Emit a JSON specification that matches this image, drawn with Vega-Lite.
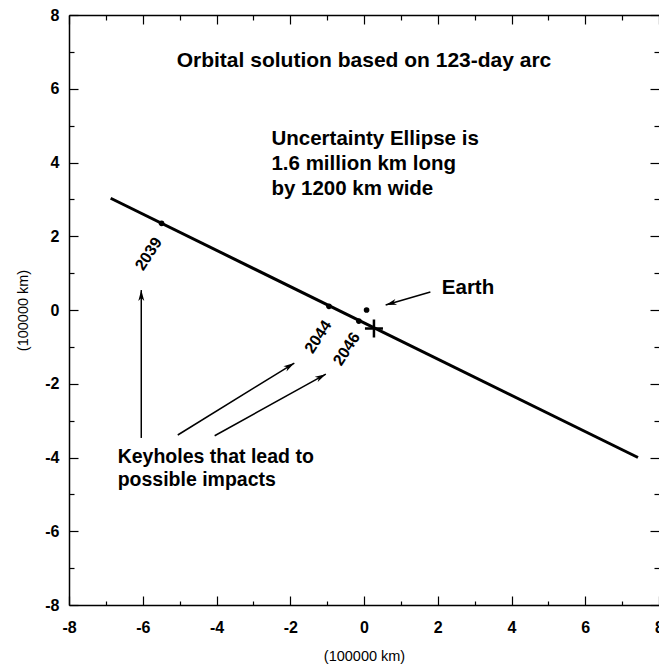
{
  "$schema": "https://vega.github.io/schema/vega-lite/v6.json",
  "width": 590,
  "height": 590,
  "autosize": {"type": "none"},
  "padding": {"left": 69, "top": 15, "right": 0, "bottom": 59},
  "background": "white",
  "config": {
    "view": {"stroke": null},
    "font": "Liberation Sans",
    "axis": {
      "grid": false,
      "domainColor": "black",
      "domainWidth": 1.5,
      "tickColor": "black",
      "tickWidth": 1.2,
      "labelColor": "black",
      "labelFont": "Liberation Sans",
      "labelFontWeight": "bold",
      "labelFontSize": 16,
      "titleColor": "black",
      "titleFont": "Liberation Sans",
      "titleFontWeight": "normal",
      "titleFontSize": 14.5
    }
  },
  "datasets": {
    "orbit": [{"x": -6.87, "y": 3.03}, {"x": 7.43, "y": -4.0}],
    "dots": [
      {"name": "2039", "x": -5.49, "y": 2.35},
      {"name": "2044", "x": -0.95, "y": 0.1},
      {"name": "2046", "x": -0.14, "y": -0.3},
      {"name": "Earth", "x": 0.07, "y": 0.0}
    ],
    "cross": [{"x": 0.27, "y": -0.5}],
    "arrows": [
      {"name": "2039", "x": -6.04, "y": -3.47, "x2": -6.04, "y2": 0.54},
      {"name": "2044", "x": -5.05, "y": -3.39, "x2": -1.89, "y2": -1.44},
      {"name": "2046", "x": -4.05, "y": -3.41, "x2": -1.035, "y2": -1.74},
      {"name": "Earth", "x": 1.8, "y": 0.49, "x2": 0.587, "y2": 0.136}
    ],
    "heading": [{"text": "Orbital solution based on 123-day arc", "x": 0, "y": 6.59}],
    "ellipse": [
      {"text": "Uncertainty Ellipse is\n1.6 million km long\nby 1200 km wide", "x": -2.51, "y": 4.47}
    ],
    "keyholes": [
      {"text": "Keyholes that lead to\npossible impacts", "x": -6.68, "y": -4.14}
    ],
    "earth": [{"text": "Earth", "x": 2.11, "y": 0.43}],
    "years": [
      {"text": "2039", "x": -5.84, "y": 1.52},
      {"text": "2044", "x": -1.24, "y": -0.73},
      {"text": "2046", "x": -0.47, "y": -1.06}
    ]
  },
  "layer": [
    {
      "data": {"name": "orbit"},
      "mark": {"type": "line", "color": "black", "strokeWidth": 3},
      "encoding": {
        "x": {
          "field": "x", "type": "quantitative",
          "scale": {"domain": [-8, 8], "nice": false, "zero": false},
          "axis": {
            "orient": "bottom",
            "values": [-8, -7, -6, -5, -4, -3, -2, -1, 0, 1, 2, 3, 4, 5, 6, 7, 8],
            "labelExpr": "datum.value % 2 === 0 ? '' + datum.value : ''",
            "tickSize": {"condition": {"test": "datum.value % 2 === 0", "value": -9}, "value": -4},
            "labelPadding": 23,
            "labelFlush": false,
            "labelOverlap": false,
            "title": "(100000 km)",
            "titlePadding": 9
          }
        },
        "y": {
          "field": "y", "type": "quantitative",
          "scale": {"domain": [-8, 8], "nice": false, "zero": false},
          "axis": {
            "orient": "left",
            "values": [-8, -7, -6, -5, -4, -3, -2, -1, 0, 1, 2, 3, 4, 5, 6, 7, 8],
            "labelExpr": "datum.value % 2 === 0 ? '' + datum.value : ''",
            "tickSize": {"condition": {"test": "datum.value % 2 === 0", "value": -9}, "value": -5},
            "labelPadding": 19,
            "labelFlush": false,
            "labelOverlap": false,
            "title": "(100000 km)",
            "titlePadding": 14
          }
        }
      }
    },
    {
      "data": {"name": "orbit"},
      "mark": {"type": "point", "opacity": 0},
      "encoding": {
        "x": {
          "field": "x", "type": "quantitative",
          "axis": {
            "orient": "top",
            "values": [-8, -7, -6, -5, -4, -3, -2, -1, 0, 1, 2, 3, 4, 5, 6, 7, 8],
            "labels": false,
            "tickSize": {"condition": {"test": "datum.value % 2 === 0", "value": -9}, "value": -5},
            "title": null
          }
        },
        "y": {
          "field": "y", "type": "quantitative",
          "axis": {
            "orient": "right",
            "values": [-8, -7, -6, -5, -4, -3, -2, -1, 0, 1, 2, 3, 4, 5, 6, 7, 8],
            "labels": false,
            "domain": false,
            "tickSize": {"condition": {"test": "datum.value % 2 === 0", "value": -9}, "value": -5},
            "title": null
          }
        }
      }
    },
    {
      "data": {"name": "arrows"},
      "mark": {"type": "rule", "color": "black", "strokeWidth": 1.5},
      "encoding": {
        "x": {"field": "x", "type": "quantitative", "axis": null},
        "y": {"field": "y", "type": "quantitative", "axis": null},
        "x2": {"field": "x2"},
        "y2": {"field": "y2"}
      }
    },
    {
      "data": {"name": "arrows"},
      "transform": [
        {"calculate": "(atan2(datum.x2 - datum.x, datum.y2 - datum.y) * 180 / PI + 360) % 360", "as": "heading"}
      ],
      "mark": {"type": "point", "shape": "M-3,11L0,0L3,11L0,8Z", "filled": true, "color": "black", "size": 4, "opacity": 1},
      "encoding": {
        "x": {"field": "x2", "type": "quantitative", "axis": null},
        "y": {"field": "y2", "type": "quantitative", "axis": null},
        "angle": {"field": "heading", "type": "quantitative", "scale": null}
      }
    },
    {
      "data": {"name": "dots"},
      "mark": {"type": "point", "shape": "circle", "filled": true, "color": "black", "size": 32, "opacity": 1},
      "encoding": {
        "x": {"field": "x", "type": "quantitative", "axis": null},
        "y": {"field": "y", "type": "quantitative", "axis": null}
      }
    },
    {
      "data": {"name": "cross"},
      "mark": {"type": "point", "shape": "M-9,0L9,0M0,-9L0,9", "filled": false, "color": "black", "strokeWidth": 2.5, "size": 4, "opacity": 1},
      "encoding": {
        "x": {"field": "x", "type": "quantitative", "axis": null},
        "y": {"field": "y", "type": "quantitative", "axis": null}
      }
    },
    {
      "data": {"name": "heading"},
      "mark": {"type": "text", "font": "Liberation Sans", "fontWeight": "bold", "fontSize": 21, "align": "center", "baseline": "alphabetic", "color": "black"},
      "encoding": {
        "x": {"field": "x", "type": "quantitative", "axis": null},
        "y": {"field": "y", "type": "quantitative", "axis": null},
        "text": {"field": "text"}
      }
    },
    {
      "data": {"name": "ellipse"},
      "mark": {"type": "text", "font": "Liberation Sans", "fontWeight": "bold", "fontSize": 20.5, "align": "left", "baseline": "alphabetic", "lineBreak": "\n", "lineHeight": 25, "color": "black"},
      "encoding": {
        "x": {"field": "x", "type": "quantitative", "axis": null},
        "y": {"field": "y", "type": "quantitative", "axis": null},
        "text": {"field": "text"}
      }
    },
    {
      "data": {"name": "keyholes"},
      "mark": {"type": "text", "font": "Liberation Sans", "fontWeight": "bold", "fontSize": 19.5, "align": "left", "baseline": "alphabetic", "lineBreak": "\n", "lineHeight": 23, "color": "black"},
      "encoding": {
        "x": {"field": "x", "type": "quantitative", "axis": null},
        "y": {"field": "y", "type": "quantitative", "axis": null},
        "text": {"field": "text"}
      }
    },
    {
      "data": {"name": "earth"},
      "mark": {"type": "text", "font": "Liberation Sans", "fontWeight": "bold", "fontSize": 20.5, "align": "left", "baseline": "alphabetic", "color": "black"},
      "encoding": {
        "x": {"field": "x", "type": "quantitative", "axis": null},
        "y": {"field": "y", "type": "quantitative", "axis": null},
        "text": {"field": "text"}
      }
    },
    {
      "data": {"name": "years"},
      "mark": {"type": "text", "font": "Liberation Sans", "fontWeight": "bold", "fontSize": 16, "align": "center", "baseline": "middle", "angle": -57, "color": "black"},
      "encoding": {
        "x": {"field": "x", "type": "quantitative", "axis": null},
        "y": {"field": "y", "type": "quantitative", "axis": null},
        "text": {"field": "text"}
      }
    }
  ],
  "resolve": {"axis": {"x": "independent", "y": "independent"}}
}
